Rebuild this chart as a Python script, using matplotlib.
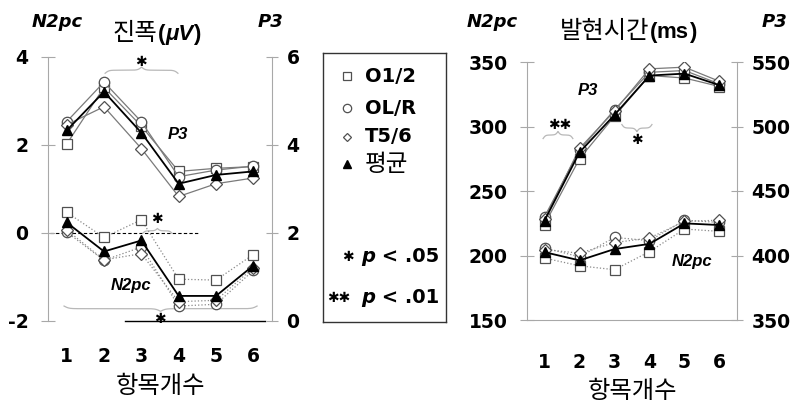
import numpy as np
import matplotlib.pyplot as plt

plt.rcParams['font.family'] = ['Liberation Sans', 'Noto Sans CJK KR', 'DejaVu Sans']
plt.rcParams['axes.unicode_minus'] = False

W, H = 798, 403

items = [1, 2, 3, 4, 5, 6]
sites = ['O1/2', 'OL/R', 'T5/6', '평균']

# 진폭 (uV): P3 on the right axis, N2pc on the left axis
amp_p3 = {
    'O1/2': [4.02, 5.31, 4.43, 3.40, 3.47, 3.51],
    'OL/R': [4.53, 5.43, 4.53, 3.28, 3.43, 3.52],
    'T5/6': [4.46, 4.87, 3.92, 2.83, 3.12, 3.25],
    '평균': [4.33, 5.21, 4.28, 3.12, 3.32, 3.40],
}
amp_n2pc = {
    'O1/2': [0.47, -0.10, 0.30, -1.05, -1.07, -0.49],
    'OL/R': [0.02, -0.62, -0.32, -1.66, -1.62, -0.85],
    'T5/6': [0.07, -0.61, -0.47, -1.56, -1.53, -0.79],
    '평균': [0.24, -0.42, -0.17, -1.43, -1.43, -0.74],
}
# 발현시간 (ms): P3 on the right axis, N2pc on the left axis
lat_p3 = {
    'O1/2': [424.0, 475.0, 508.0, 539.5, 537.6, 531.0],
    'OL/R': [430.0, 481.5, 513.0, 542.0, 543.4, 533.0],
    'T5/6': [428.0, 483.0, 512.0, 544.7, 546.0, 535.0],
    '평균': [427.0, 480.0, 509.0, 539.5, 541.0, 532.0],
}
lat_n2pc = {
    'O1/2': [198.0, 192.0, 189.0, 203.0, 220.5, 218.7],
    'OL/R': [205.9, 199.0, 214.0, 211.5, 227.4, 225.6],
    'T5/6': [204.6, 201.8, 210.0, 213.6, 226.4, 227.4],
    '평균': [202.6, 196.2, 205.0, 209.0, 224.9, 223.6],
}

markers = {'O1/2': 's', 'OL/R': 'o', 'T5/6': 'D', '평균': '^'}
msize = {'O1/2': 7, 'OL/R': 7.5, 'T5/6': 6, '평균': 7.5}
gray = '#a8a8a8'
edge = '#505050'
AST = dict(family='DejaVu Sans', fontsize=10)
STAR = '✱'
NUM = 13.5
WIDE = ['DejaVu Sans', 'Noto Sans CJK KR']


def fx(px):
    return px / W


def fy(py):
    return 1 - py / H


def style(site):
    if site == '평균':
        return dict(color='black', lw=1.3, marker='^', ms=msize[site],
                    mfc='black', mec='black', zorder=5)
    return dict(color='#7a7a7a', lw=0.9, marker=markers[site], ms=msize[site],
                mfc='white', mec=edge, mew=0.9, zorder=3)


def brace(ax, x0, x1, y, h, beta=30):
    t = np.linspace(0, 0.5, 151)
    s = 1 / (1 + np.exp(-beta * t)) + 1 / (1 + np.exp(-beta * (t - 0.5)))
    s = np.concatenate([s, s[-2::-1]])
    xs = np.linspace(x0, x1, s.size)
    ax.plot(xs, y + h * (s - 1), color='#b8b8b8', lw=0.9, clip_on=False, zorder=2)


def panel(rect, n2pc, p3, lims, rlims, lticks, rticks, xpad, lpad):
    ax = fig.add_axes(rect)
    axr = ax.twinx()
    for s in sites:
        st = style(s)
        if s != '평균':
            st['ls'] = ':'
            st['color'] = '#8a8a8a'
        ax.plot(items, n2pc[s], **st)
        axr.plot(items, p3[s], **style(s))
    ax.set_xlim(0.5, 6.5)
    ax.set_ylim(*lims)
    axr.set_ylim(*rlims)
    ax.set_yticks(lticks)
    axr.set_yticks(rticks)
    ax.set_xticks(items)
    for a in (ax, axr):
        for sp in a.spines.values():
            sp.set_visible(False)
            sp.set_color(gray)
    ax.spines['left'].set_visible(True)
    axr.spines['right'].set_visible(True)
    ax.tick_params(axis='y', direction='inout', length=10, color=gray, pad=9,
                   labelsize=NUM)
    axr.tick_params(axis='y', direction='inout', length=9, color=gray, pad=6,
                    labelsize=NUM)
    ax.tick_params(axis='x', length=0, pad=xpad, labelsize=NUM)
    for lab in ax.get_xticklabels() + ax.get_yticklabels() + axr.get_yticklabels():
        lab.set_fontweight('bold')
        lab.set_fontfamily(WIDE)
    ax.set_xlabel('항목개수', fontsize=17.5, labelpad=lpad)
    return ax, axr


fig = plt.figure(figsize=(W / 100, H / 100), dpi=100)

# ---- left panel: amplitude
ax1, ax1r = panel([fx(48), fy(321), fx(224), 264 / H], amp_n2pc, amp_p3,
                  (-2, 4), (0, 6), [-2, 0, 2, 4], [0, 2, 4, 6], 19, 7)
ax1.plot([0.55, 4.52], [0, 0], color='black', lw=0.8, dashes=(3, 2), zorder=1)
ax1.plot([2.56, 6.31], [-2, -2], color='black', lw=1.0, clip_on=False)
brace(ax1, 2.03, 3.98, 3.70, 0.14, beta=40)
ax1.text(2.99, 3.88, STAR, ha='center', va='center', **AST)
brace(ax1, 3.04, 3.82, 0.05, 0.11, beta=25)
ax1.text(3.42, 0.32, STAR, ha='center', va='center', **AST)
brace(ax1, 0.93, 6.10, -1.72, -0.12, beta=80)
ax1.text(3.50, -1.95, STAR, ha='center', va='center', **AST)
ax1.text(3.98, 2.23, 'P3', ha='center', va='center', fontsize=12,
         fontweight='bold', style='italic')
ax1.text(2.72, -1.20, 'N2pc', ha='center', va='center', fontsize=12,
         fontweight='bold', style='italic')

# ---- right panel: latency
ax2, ax2r = panel([fx(527), fy(320), fx(210), 258 / H], lat_n2pc, lat_p3,
                  (150, 350), (350, 550), [150, 200, 250, 300, 350],
                  [350, 400, 450, 500, 550], 24, 6)
ax2.spines['bottom'].set_visible(True)
brace(ax2, 0.96, 1.81, 293.4, 5.5, beta=25)
ax2.text(1.44, 301, STAR + STAR, ha='center', va='center', **AST)
brace(ax2, 3.21, 4.07, 298.8, -5.5, beta=25)
ax2.text(3.64, 289.5, STAR, ha='center', va='center', **AST)
ax2.text(2.24, 328, 'P3', ha='center', va='center', fontsize=12,
         fontweight='bold', style='italic')
ax2.text(5.21, 195, 'N2pc', ha='center', va='center', fontsize=12,
         fontweight='bold', style='italic')

# ---- header texts
hdr = dict(fontsize=13, fontweight='bold', style='italic', ha='center',
           va='center', family=WIDE)
fig.text(fx(57), fy(22), 'N2pc', **hdr)
fig.text(fx(270), fy(22), 'P3', **hdr)
fig.text(fx(492), fy(22), 'N2pc', **hdr)
fig.text(fx(775), fy(22), 'P3', **hdr)


def title(x_px, base_px, kor, unit, unit_italic):
    t = fig.text(fx(x_px), fy(base_px), kor, fontsize=17.5, va='baseline', ha='left')
    prev = ax1.annotate('(', xy=(1, fy(base_px)), xycoords=(t, 'figure fraction'),
                        fontsize=16, fontweight='bold', va='baseline', ha='left')
    mid = ax1.annotate(unit, xy=(1, fy(base_px)), xycoords=(prev, 'figure fraction'),
                       fontsize=16, fontweight='bold',
                       style='italic' if unit_italic else 'normal',
                       va='baseline', ha='left')
    ax1.annotate(')', xy=(1, fy(base_px)), xycoords=(mid, 'figure fraction'),
                 fontsize=16, fontweight='bold', va='baseline', ha='left')


title(113, 40, '진폭', 'μV', True)
title(560, 38, '발현시간', 'ms', False)

# ---- legend box
lg = fig.add_axes([fx(323), fy(322), fx(123), 269 / H])
lg.set_xlim(0, 123)
lg.set_ylim(269, 0)
lg.set_xticks([])
lg.set_yticks([])
for sp in lg.spines.values():
    sp.set_color('#333333')
    sp.set_linewidth(1.0)
rows = [23, 55, 84, 111]
for s, yy in zip(sites, rows):
    st = style(s)
    st['ms'] = st['ms'] - 1.5
    st['ls'] = 'none'
    lg.plot([24], [yy], **st)
    lg.text(42, yy, s, fontsize=14 if s != '평균' else 17, va='center',
            ha='left', family=WIDE,
            fontweight='normal' if s == '평균' else 'bold')


def ptext(x, yy, lab):
    t = lg.text(x, yy, 'p', fontsize=14, fontweight='bold', style='italic',
                va='baseline', ha='left', family=WIDE)
    lg.annotate(' < ' + lab, xy=(1, yy), xycoords=(t, 'data'), fontsize=14,
                fontweight='bold', va='baseline', ha='left', family=WIDE)


lg.text(25, 204, STAR, ha='center', va='center', **AST)
ptext(38, 209, '.05')
lg.text(16, 245, STAR + STAR, ha='center', va='center', **AST)
ptext(38, 250, '.01')

fig.savefig('out.png', dpi=100)
